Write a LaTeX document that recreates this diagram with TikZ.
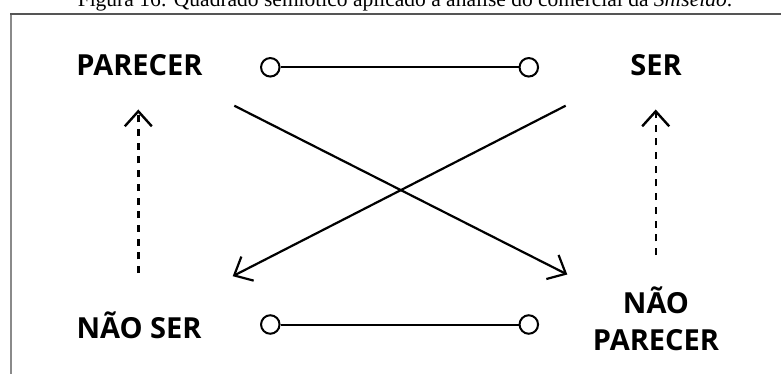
\documentclass[tikz,border=0pt]{standalone}
\usepackage{fontspec}
\setmainfont{Liberation Serif}
\newfontfamily\labfont{Open Sans}
\usetikzlibrary{arrows.meta}
\definecolor{frametop}{HTML}{555555}
\definecolor{frameleft}{HTML}{8A8A8A}
\begin{document}
\begin{tikzpicture}[x=1pt,y=-1pt,
  lab/.style={font=\labfont\bfseries\fontsize{29}{37}\selectfont, inner sep=0pt, anchor=base, align=center},
  dot/.style={circle, draw, line width=2pt, minimum size=18.5pt, inner sep=0pt, fill=white},
  link/.style={line width=2pt},
  cross/.style={line width=2.2pt, -{Straight Barb[length=15pt,width=27pt]}},
  neg/.style={line width=2.4pt, dash pattern=on 7pt off 6.7pt, -{Straight Barb[length=15pt,width=27pt]}}]
\useasboundingbox (0,0) rectangle (781,374);
% caption (cut at the top)
\node[anchor=base west, font=\fontsize{21.5}{24}\selectfont, inner sep=0pt] (cap) at (77.6,6.5)
  {Figura 16: Quadrado semiótico aplicado à análise do comercial da \textit{Shiseido}.};
% frame
\draw[frameleft, line width=2pt] (11,13.8) -- (11,380);
\draw[frametop, line width=2pt] (10,13.8) -- (790,13.8);
% labels
\node[lab] (par) at (139.5,76) {PARECER};
\node[lab] (ser) at (656,76) {SER};
\node[lab] (nser) at (139,338) {NÃO SER};
\node[lab] (npar) at (656,350) {NÃO\\PARECER};
% contrariety / subcontrariety links
\node[dot] (c1) at (270.3,67.3) {};
\node[dot] (c2) at (528.8,67.3) {};
\node[dot] (c3) at (270.3,324.5) {};
\node[dot] (c4) at (528.8,324.5) {};
\draw[link] (c1) -- (c2);
\draw[link] (c3) -- (c4);
% contradictions
\coordinate (x1s) at (234.3,105.7);
\coordinate (x1e) at (567.3,274.5);
\coordinate (x2s) at (565.7,105.7);
\coordinate (x2e) at (232.7,276.2);
\draw[cross] (x1s) -- (x1e);
\draw[cross] (x2s) -- (x2e);
% implications
\coordinate (d1s) at (138.3,273);
\coordinate (d1e) at (138.3,109.5);
\coordinate (d2s) at (655.7,255);
\coordinate (d2e) at (655.7,109.5);
\draw[neg] (d1s) -- (d1e);
\draw[neg] (d2s) -- (d2e);
\end{tikzpicture}
\end{document}
